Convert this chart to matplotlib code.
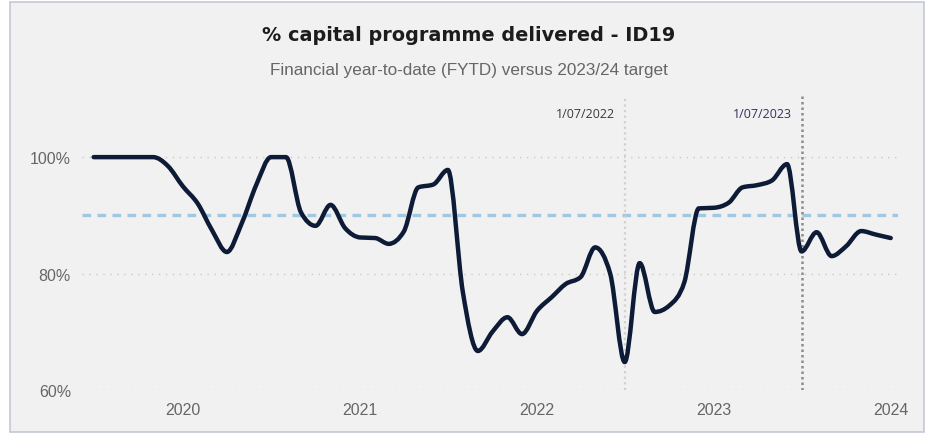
import datetime as dt

import matplotlib
matplotlib.use("Agg")
import matplotlib.pyplot as plt
import matplotlib.dates as mdates
import numpy as np
from matplotlib.patches import PathPatch, Rectangle
from matplotlib.path import Path
from matplotlib.ticker import FixedLocator, FuncFormatter

# ── Datos: % del programa de capital entregado (FYTD), mensual ──────────────

meses_inicio = dt.date(2019, 7, 1)
entregado = [
    100.0, 100.0, 100.0, 100.0, 100.0, 98.5,          # jul-dic 2019
    95.0, 92.0, 87.5, 83.7, 88.5, 95.3,               # ene-jun 2020
    100.0, 100.0, 90.5, 88.2, 91.8, 87.8,             # jul-dic 2020
    86.2, 86.1, 85.1, 87.2, 94.8, 95.3,               # ene-jun 2021
    97.8, 76.8, 66.7, 70.0, 72.5, 69.6,               # jul-dic 2021
    73.6, 76.0, 78.2, 79.4, 84.5, 80.0,               # ene-jun 2022
    64.8, 81.8, 73.4, 74.5, 78.5, 91.2,               # jul-dic 2022
    91.3, 92.2, 94.8, 95.2, 96.0, 98.8,               # ene-jun 2023
    83.8, 87.1, 83.0, 84.7, 87.3, 86.7,               # jul-dic 2023
    86.1,                                             # ene 2024
]
meta = 90.0
marcadores = [dt.date(2022, 7, 1), dt.date(2023, 7, 1)]
marcadores_txt = ["1/07/2022", "1/07/2023"]
anios = [2020, 2021, 2022, 2023, 2024]
y_ticks = [60, 80, 100]


def fechas_mensuales(inicio, n):
    out = []
    y, m = inicio.year, inicio.month
    for _ in range(n):
        out.append(dt.date(y, m, 1))
        m += 1
        if m > 12:
            y, m = y + 1, 1
    return out


def curva_monotona(x, y):
    """Path Bézier que pasa por cada punto (tangentes monótonas, estilo curveMonotoneX)."""
    x = np.asarray(x, float)
    y = np.asarray(y, float)
    h = np.diff(x)
    s = np.diff(y) / h
    m = np.zeros_like(y)
    m[0], m[-1] = s[0], s[-1]
    for i in range(1, len(y) - 1):
        if s[i - 1] * s[i] <= 0:
            m[i] = 0.0
        else:
            p = (s[i - 1] * h[i] + s[i] * h[i - 1]) / (h[i - 1] + h[i])
            m[i] = np.sign(s[i]) * min(abs(s[i - 1]), abs(s[i]), 0.5 * abs(p)) * 2
    verts = [(x[0], y[0])]
    codes = [Path.MOVETO]
    for i in range(len(x) - 1):
        d = h[i] / 3
        verts += [(x[i] + d, y[i] + m[i] * d), (x[i + 1] - d, y[i + 1] - m[i + 1] * d),
                  (x[i + 1], y[i + 1])]
        codes += [Path.CURVE4] * 3
    return Path(verts, codes)


fechas = mdates.date2num(fechas_mensuales(meses_inicio, len(entregado)))

# ── Figura ──────────────────────────────────────────────────────────────────

W, H = 926, 435
fig = plt.figure(figsize=(W / 100, H / 100), dpi=100, facecolor="white")

# tarjeta gris con borde
fig.patches.append(Rectangle((9.5 / W, 2.5 / H), (924 - 9.5) / W, (432.5 - 2.5) / H,
                             transform=fig.transFigure, facecolor="#f1f1f1",
                             edgecolor="#c4c8d6", linewidth=1.2, zorder=-10))

ax = fig.add_axes([82 / W, 1 - 391 / H, (898 - 82) / W, (391 - 97) / H])
ax.set_zorder(1)
ax.set_facecolor("none")
for s in ax.spines.values():
    s.set_visible(False)

ax.set_xlim(mdates.date2num(dt.date(2019, 6, 7)), mdates.date2num(dt.date(2024, 1, 16)))
ax.set_ylim(60, 110.5)

# rejilla horizontal punteada
for v in y_ticks:
    ax.axhline(v, color="#c9c9c9", linewidth=1.0, linestyle=(0, (1, 4)), zorder=1)

# meta
ax.axhline(meta, color="#a2c7e1", linewidth=2.4, linestyle=(0, (2.6, 1.9)), zorder=2)

# líneas de referencia
ax.axvline(mdates.date2num(marcadores[0]), color="#d0d0d0", linewidth=1.6,
           linestyle=(0, (1, 1.5)), zorder=2)
ax.axvline(mdates.date2num(marcadores[1]), color="#8c8c8c", linewidth=1.8,
           linestyle=(0, (1, 1.2)), zorder=2)
colores_txt = ["#3a3a3a", "#3b2c5e"]
for d, txt, c in zip(marcadores, marcadores_txt, colores_txt):
    ax.annotate(txt, (mdates.date2num(d), 107.55), xytext=(-7, 0),
                textcoords="offset points", ha="right", va="center",
                fontsize=9, color=c, family="Open Sans")

# serie suavizada
ax.add_patch(PathPatch(curva_monotona(fechas, entregado), facecolor="none",
                       edgecolor="#0d1b36", linewidth=3.2, capstyle="round",
                       joinstyle="round", zorder=4))

# ejes
ax.yaxis.set_major_locator(FixedLocator(y_ticks))
ax.yaxis.set_major_formatter(FuncFormatter(lambda v, p: f"{v:.0f}%"))
ax.xaxis.set_major_locator(FixedLocator([mdates.date2num(dt.date(a, 1, 1)) for a in anios]))
ax.xaxis.set_major_formatter(FuncFormatter(lambda v, p: str(mdates.num2date(v).year)))
ax.tick_params(axis="both", length=0, labelsize=11.5, labelcolor="#666666")
ax.tick_params(axis="y", pad=8)
ax.tick_params(axis="x", pad=9)
for lab in ax.get_xticklabels() + ax.get_yticklabels():
    lab.set_family("Liberation Sans")

fig.text(468.5 / W, 1 - 36 / H, "% capital programme delivered - ID19", ha="center",
         va="center", fontsize=13.9, fontweight="bold", color="#1c1c1c",
         family="DejaVu Sans")
fig.text(468.5 / W, 1 - 70 / H, "Financial year-to-date (FYTD) versus 2023/24 target",
         ha="center", va="center", fontsize=12.3, color="#666666",
         family="Liberation Sans")

fig.savefig("out.png", dpi=100, facecolor="white")
